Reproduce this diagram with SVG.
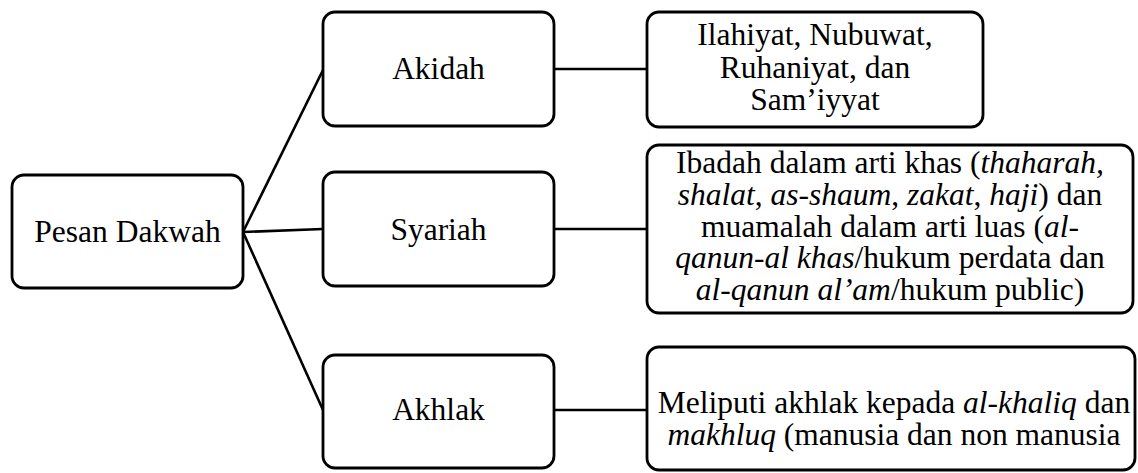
<svg xmlns="http://www.w3.org/2000/svg" width="1138" height="473" viewBox="0 0 1138 473">
<style>
.box{fill:#fff;stroke:#000;stroke-width:2.8}
.con{stroke:#000;stroke-width:2.6;fill:none}
text{font-family:"Liberation Serif","Times New Roman",serif;font-size:31.5px;fill:#000;text-anchor:middle}
.i{font-style:italic}
</style>
<rect width="1138" height="473" fill="#fff"/>
<g id="connectors">
<line class="con" x1="243" y1="232" x2="323" y2="70"/>
<line class="con" x1="243" y1="232" x2="323" y2="229"/>
<line class="con" x1="243" y1="232" x2="323" y2="410"/>
<line class="con" x1="554" y1="69" x2="647" y2="69"/>
<line class="con" x1="554" y1="229" x2="647" y2="229"/>
<line class="con" x1="554" y1="410" x2="647" y2="410"/>
</g>
<g id="pesan">
<rect class="box" x="12" y="175" width="231" height="113" rx="12"/>
<text x="127.5" y="242">Pesan Dakwah</text>
</g>
<g id="akidah">
<rect class="box" x="323" y="12" width="231" height="114" rx="12"/>
<text x="438.5" y="79">Akidah</text>
</g>
<g id="syariah">
<rect class="box" x="323" y="172" width="231" height="114" rx="12"/>
<text x="438.5" y="240">Syariah</text>
</g>
<g id="akhlak">
<rect class="box" x="323" y="355" width="231" height="113" rx="12"/>
<text x="438.5" y="420">Akhlak</text>
</g>
<g id="akidah-detail">
<rect class="box" x="647" y="12" width="336" height="115" rx="12"/>
<text x="815" y="45">Ilahiyat, Nubuwat,<tspan x="815" dy="32.5">Ruhaniyat, dan</tspan><tspan x="815" dy="32.5">Sam’iyyat</tspan></text>
</g>
<g id="syariah-detail">
<rect class="box" x="647" y="145" width="486" height="168" rx="12"/>
<text x="890" y="173">Ibadah dalam arti khas (<tspan class="i">thaharah,</tspan><tspan x="890" dy="31.75"><tspan class="i">shalat</tspan>, <tspan class="i">as-shaum</tspan>, <tspan class="i">zakat</tspan>, <tspan class="i">haji</tspan>) dan</tspan><tspan x="890" dy="31.75">muamalah dalam arti luas (<tspan class="i">al-</tspan></tspan><tspan x="890" dy="31.75"><tspan class="i">qanun-al khas</tspan>/hukum perdata dan</tspan><tspan x="890" dy="31.75"><tspan class="i">al-qanun al’am</tspan>/hukum public)</tspan></text>
</g>
<g id="akhlak-detail">
<rect class="box" x="647" y="347" width="488" height="123" rx="12"/>
<text x="894" y="413">Meliputi akhlak kepada <tspan class="i">al-khaliq</tspan> dan<tspan x="894" dy="32"><tspan class="i">makhluq</tspan> (manusia dan non manusia</tspan></text>
</g>
</svg>
